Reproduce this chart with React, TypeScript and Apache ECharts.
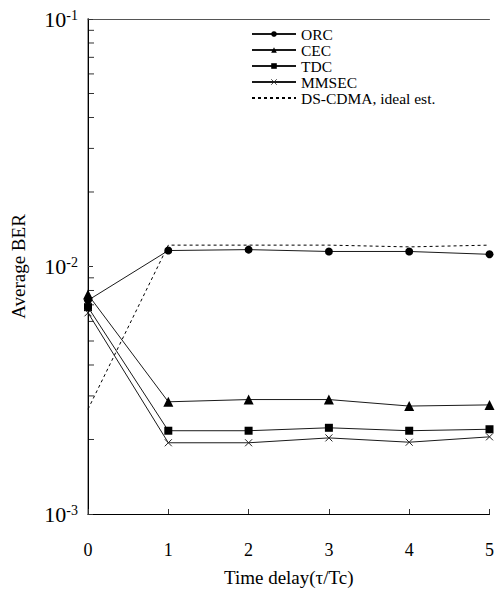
import React, { useEffect, useRef } from "react";
import * as echarts from "echarts";

const delays = [0, 1, 2, 3, 4, 5];
const orc = [7.3e-3, 1.16e-2, 1.17e-2, 1.15e-2, 1.15e-2, 1.12e-2];
const cec = [7.7e-3, 2.84e-3, 2.9e-3, 2.9e-3, 2.73e-3, 2.76e-3];
const tdc = [6.85e-3, 2.17e-3, 2.17e-3, 2.23e-3, 2.17e-3, 2.2e-3];
const mmsec = [6.5e-3, 1.94e-3, 1.94e-3, 2.03e-3, 1.95e-3, 2.05e-3];
const ideal = [2.65e-3, 1.22e-2, 1.22e-2, 1.22e-2, 1.2e-2, 1.22e-2];
const seriesNames = ["ORC", "CEC", "TDC", "MMSEC", "DS-CDMA, ideal est."];
const minorTickValues = [
  2e-3, 3e-3, 4e-3, 5e-3, 6e-3, 7e-3, 8e-3, 9e-3,
  2e-2, 3e-2, 4e-2, 5e-2, 6e-2, 7e-2, 8e-2, 9e-2,
];

const FONT = "'Liberation Serif', 'Times New Roman', serif";
const CROSS = "path://M0,0L10,10M10,0L0,10";

export default function App() {
  const ref = useRef<HTMLDivElement>(null);
  useEffect(() => {
    if (!ref.current) return;
    const chart = echarts.init(ref.current, null, { renderer: "svg" });
    const pair = (arr: number[]) => delays.map((d, i) => [d, arr[i]]);
    const lineCol = "#1a1a1a";
    const mk = (name: string, arr: number[], symbol: string, size: number, extra: any = {}) => ({
      name,
      type: "line",
      data: pair(arr),
      symbol,
      symbolSize: size,
      lineStyle: { color: lineCol, width: 1 },
      itemStyle: { color: "#000" },
      z: 3,
      ...extra,
    });
    chart.setOption({
      animation: false,
      backgroundColor: "#fff",
      textStyle: { fontFamily: FONT },
      grid: { left: 88, right: 7, top: 19, bottom: 78 },
      legend: {
        orient: "vertical",
        left: 246,
        top: 21,
        itemWidth: 44,
        itemHeight: 7,
        itemGap: 0,
        data: [
          seriesNames[0],
          seriesNames[1],
          seriesNames[2],
          { name: seriesNames[3], itemStyle: { borderWidth: 0.8 } },
          { name: seriesNames[4], itemStyle: { opacity: 0 } },
        ],
        textStyle: { fontFamily: FONT, fontSize: 15.5, color: "#000", lineHeight: 15, height: 15 },
      },
      xAxis: [
        {
          type: "value",
          min: 0,
          max: 5,
          interval: 1,
          position: "bottom",
          name: "Time delay(τ/Tc)",
          nameLocation: "middle",
          nameGap: 54,
          nameTextStyle: { fontFamily: FONT, fontSize: 19, color: "#000" },
          axisLine: { show: true, lineStyle: { color: "#000", width: 1 } },
          axisTick: { show: true, inside: true, length: 5, lineStyle: { color: "#333" } },
          axisLabel: { fontFamily: FONT, fontSize: 18, color: "#000", margin: 27 },
          splitLine: { show: false },
        },
        {
          type: "value",
          min: 0,
          max: 5,
          interval: 1,
          position: "top",
          axisLine: { show: true, lineStyle: { color: "#555", width: 1 } },
          axisTick: { show: false },
          axisLabel: { show: false },
          splitLine: { show: false },
        },
      ],
      yAxis: [
        {
          type: "log",
          logBase: 10,
          min: 0.001,
          max: 0.1,
          position: "left",
          name: "Average BER",
          nameLocation: "middle",
          nameGap: 60,
          nameRotate: 90,
          nameTextStyle: { fontFamily: FONT, fontSize: 19, color: "#000" },
          axisLine: { show: true, lineStyle: { color: "#a0a0a0", width: 2 } },
          axisTick: { show: true, inside: true, length: 5, lineStyle: { color: "#333" } },
          minorTick: { show: false },
          splitLine: { show: false },
          axisLabel: {
            margin: 10,
            formatter: (v: number) => `{b|10}{s|${Math.round(Math.log10(v))}}`,
            rich: {
              b: { fontFamily: FONT, fontSize: 22, color: "#000" },
              s: { fontFamily: FONT, fontSize: 14, color: "#000", verticalAlign: "top", padding: [0, 0, 8, 0] },
            },
          },
        },
        {
          type: "log",
          logBase: 10,
          min: 0.001,
          max: 0.1,
          position: "right",
          axisLine: { show: true, lineStyle: { color: "#000", width: 1 } },
          axisTick: { show: false },
          axisLabel: { show: false },
          splitLine: { show: false },
        },
      ],
      series: [
        mk("ORC", orc, "circle", 8),
        mk("CEC", cec, "triangle", 10),
        mk("TDC", tdc, "rect", 8),
        mk("MMSEC", mmsec, CROSS, 7, {
          itemStyle: { color: "transparent", borderColor: "#222", borderWidth: 1 },
        }),
        {
          name: "DS-CDMA, ideal est.",
          type: "line",
          data: pair(ideal),
          symbol: "none",
          lineStyle: { color: "#000", width: 1, type: [3, 3] },
          itemStyle: { color: "#000" },
          z: 2,
        },
        {
          type: "custom",
          silent: true,
          clip: false,
          data: minorTickValues.map((v) => [0, v]),
          renderItem: (_params: any, api: any) => {
            const p = api.coord([api.value(0), api.value(1)]);
            return {
              type: "line",
              shape: { x1: p[0] + 1, y1: p[1], x2: p[0] + 6, y2: p[1] },
              style: { stroke: "#333", lineWidth: 1 },
            };
          },
          z: 1,
        },
      ],
    });
    return () => chart.dispose();
  }, []);
  return <div ref={ref} style={{ position: "fixed", left: 0, top: 0, width: 497, height: 592 }} />;
}
